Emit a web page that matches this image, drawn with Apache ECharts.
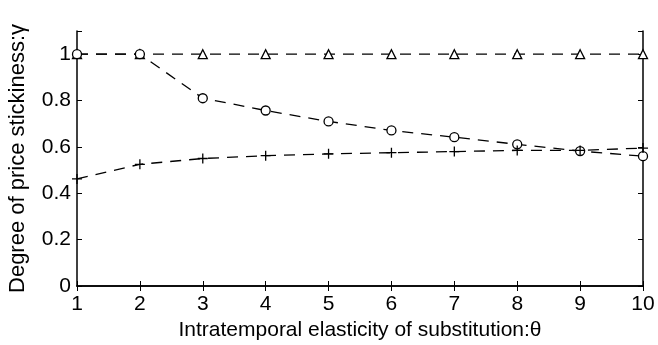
<!DOCTYPE html>
<html>
<head>
<meta charset="utf-8">
<script src="https://cdn.jsdelivr.net/npm/echarts@6/dist/echarts.min.js"></script>
<style>
  html, body { margin: 0; padding: 0; background: #fff; }
  #chart { width: 658px; height: 345px; }
</style>
</head>
<body>
<div id="chart"></div>
<script>
const theta = ["1", "2", "3", "4", "5", "6", "7", "8", "9", "10"];
const gammaTriangle = [1, 1, 1, 1, 1, 1, 1, 1, 1, 1];
const gammaCircle = [1.0, 1.0, 0.81, 0.757, 0.71, 0.671, 0.642, 0.611, 0.582, 0.56];
const gammaPlus = [0.462, 0.525, 0.55, 0.562, 0.57, 0.575, 0.58, 0.585, 0.585, 0.595];

const FONT = "Liberation Sans";
const plusSymbol = "path://M0,5L10,5M5,0L5,10";

const chart = echarts.init(document.getElementById("chart"));

function dashedSeries(name, data, symbol, size) {
  return {
    name,
    type: "line",
    data: data.map((v, i) => [Number(theta[i]), v]),
    symbol,
    symbolSize: size,
    showSymbol: true,
    clip: false,
    lineStyle: { color: "#000", width: 1.3, type: [11, 8] },
    itemStyle: { color: "#fff", borderColor: "#000", borderWidth: 1.3 },
    animation: false,
  };
}

chart.setOption({
  animation: false,
  grid: {
    left: 77,
    right: 15,
    top: 31,
    bottom: 59,
    containLabel: false,
    outerBoundsMode: "none",
  },
  xAxis: [
    {
      type: "value",
      min: 1,
      max: 10,
      interval: 1,
      name: "Intratemporal elasticity of substitution:θ",
      nameLocation: "middle",
      nameGap: 32,
      nameTextStyle: { fontFamily: FONT, fontSize: 21, color: "#000" },
      axisLine: { lineStyle: { color: "#000", width: 1.5 } },
      axisTick: { inside: true, length: 5, lineStyle: { color: "#000" } },
      axisLabel: { fontFamily: FONT, fontSize: 21, color: "#000", margin: 8 },
      splitLine: { show: false },
    },
    {
      type: "value",
      position: "top",
      min: 1,
      max: 10,
      interval: 1,
      axisLine: { show: true, lineStyle: { color: "#000", width: 1.5 } },
      axisTick: { inside: true, length: 5, lineStyle: { color: "#000" } },
      axisLabel: { show: false },
      splitLine: { show: false },
    },
  ],
  yAxis: [
    {
      type: "value",
      min: 0,
      max: 1.1,
      interval: 0.2,
      name: "Degree of price stickiness:γ",
      nameLocation: "middle",
      nameGap: 48,
      nameTextStyle: { fontFamily: FONT, fontSize: 22, color: "#000" },
      axisLine: { show: true, lineStyle: { color: "#000", width: 1.5 } },
      axisTick: { inside: true, length: 5, lineStyle: { color: "#000" } },
      axisLabel: {
        fontFamily: FONT,
        fontSize: 21,
        color: "#000",
        margin: 6,
        formatter: (v) => (v > 1.05 ? "" : String(Math.round(v * 10) / 10)),
      },
      splitLine: { show: false },
    },
    {
      type: "value",
      position: "right",
      min: 0,
      max: 1.1,
      interval: 0.2,
      axisLine: { show: true, lineStyle: { color: "#000", width: 1.5 } },
      axisTick: { inside: true, length: 5, lineStyle: { color: "#000" } },
      axisLabel: { show: false },
      splitLine: { show: false },
    },
  ],
  series: [
    dashedSeries("triangle", gammaTriangle, "triangle", 9),
    dashedSeries("circle", gammaCircle, "circle", 9),
    dashedSeries("plus", gammaPlus, plusSymbol, 10),
  ],
});
</script>
</body>
</html>
